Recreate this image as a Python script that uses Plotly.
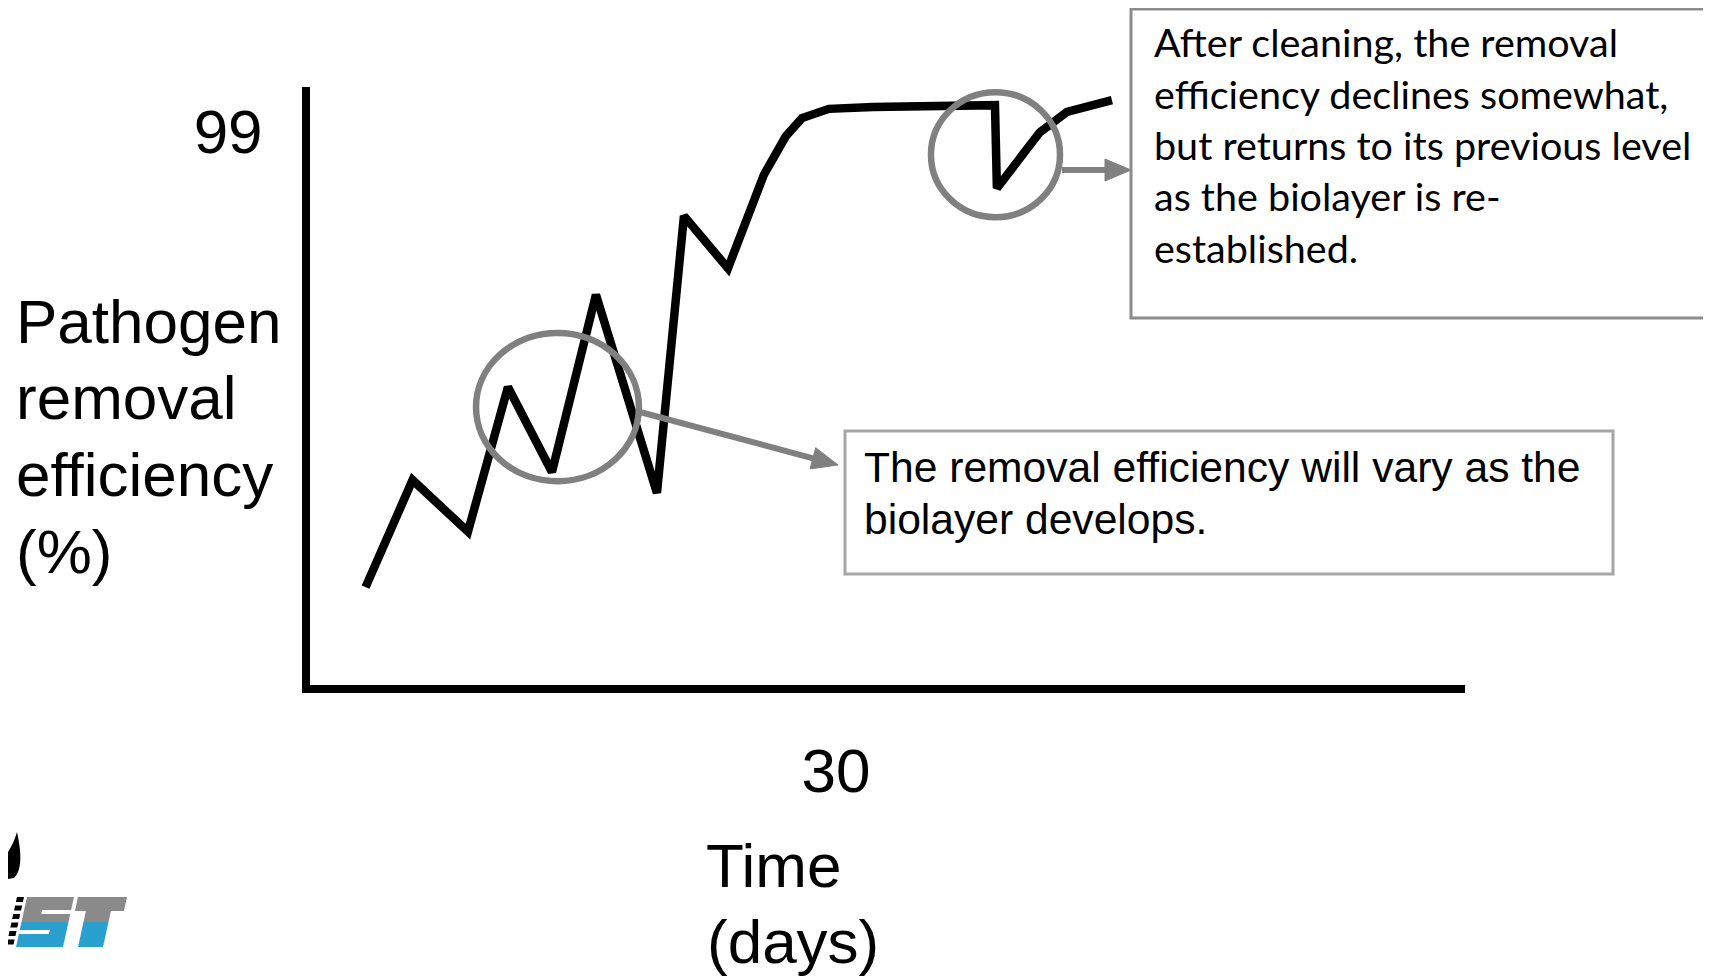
import math
import plotly.graph_objects as go

W, H = 1711, 977
OFF = 8  # page body margin of the browser

# ---- data (schematic curve) ----
days = [3.17, 5.85, 9.01, 11.29, 13.80, 16.31, 19.79, 21.33, 23.84, 25.89,
        27.13, 28.06, 29.6, 32.11, 39.07, 39.18, 41.63, 43.18, 45.74]
efficiency = [91.59, 93.33, 92.49, 94.84, 93.46, 96.34, 93.12, 97.62, 96.77, 98.29,
              98.91, 99.21, 99.36, 99.39, 99.42, 98.07, 98.98, 99.31, 99.50]
x_ticks = [30]
x_tick_text = ["30"]
y_ticks = [99]
y_tick_text = ["99"]
y_title_lines = ["Pathogen", "removal", "efficiency", "(%)"]
x_title_lines = ["Time", "(days)"]
note_top_lines = ["After cleaning, the removal", "efficiency declines somewhat,",
                  "but returns to its previous level", "as the biolayer is re-",
                  "established."]
note_mid_lines = ["The removal efficiency will vary as the", "biolayer develops."]

X_RANGE = [0, 65.88]
Y_RANGE = [90, 99.715]

ARIAL = "Arial, Liberation Sans, sans-serif"
CAL = "Lato, Carlito, Calibri, sans-serif"
GREY = "#808080"


def px(x):
    return (x - OFF) / W


def py(y):
    return 1 - (y - OFF) / H


fig = go.Figure()
fig.add_trace(go.Scatter(x=days, y=efficiency, mode="lines",
                         line=dict(color="black", width=8.5),
                         cliponaxis=False, showlegend=False, hoverinfo="skip"))

shapes = []
# circles highlighting features (data coordinates)
shapes.append(dict(type="circle", xref="x", yref="y", x0=9.47, x1=18.76, y0=93.31, y1=95.72,
                   line=dict(color=GREY, width=6.5)))
shapes.append(dict(type="circle", xref="x", yref="y", x0=35.42, x1=42.78, y0=97.60, y1=99.63,
                   line=dict(color=GREY, width=6.5)))


def arrow(x0, y0, x1, y1, head=26, half=11):
    dx, dy = x1 - x0, y1 - y0
    L = math.hypot(dx, dy)
    ux, uy = dx / L, dy / L
    bx, by = x1 - head * ux, y1 - head * uy
    nx, ny = -uy * half, ux * half
    out = [dict(type="line", xref="paper", yref="paper", x0=px(x0), y0=py(y0),
                x1=px(bx + 2 * ux), y1=py(by + 2 * uy), line=dict(color=GREY, width=6))]
    path = "M {} {} L {} {} L {} {} Z".format(px(x1), py(y1), px(bx + nx), py(by + ny),
                                             px(bx - nx), py(by - ny))
    out.append(dict(type="path", xref="paper", yref="paper", path=path,
                    fillcolor=GREY, line=dict(color=GREY, width=1)))
    return out


shapes += arrow(640, 412, 838, 465)
shapes += arrow(1062, 170, 1131, 170)

# note boxes
shapes.append(dict(type="rect", xref="paper", yref="paper", x0=px(1131), x1=px(1716),
                   y0=py(318), y1=py(9), line=dict(color="#8c8c8c", width=3),
                   fillcolor="rgba(0,0,0,0)"))
shapes.append(dict(type="rect", xref="paper", yref="paper", x0=px(845), x1=px(1613),
                   y0=py(574), y1=py(431), line=dict(color="#a6a6a6", width=3),
                   fillcolor="rgba(0,0,0,0)"))


# ---- logo (bottom-left) drawn as simple shapes ----
def poly(pts, color):
    p = "M " + " L ".join("{} {}".format(px(a), py(b)) for a, b in pts) + " Z"
    return dict(type="path", xref="paper", yref="paper", path=p, fillcolor=color,
                line=dict(width=0), layer="above")


K = 0.22  # italic slant


def sl(x, y):
    return (x + K * (947 - y), y)


LOGO_GREY = "#8a8a8a"
LOGO_BLUE = "#2aa0cf"
# flame
shapes.append(dict(type="path", xref="paper", yref="paper",
                   path="M {} {} C {} {}, {} {}, {} {} L {} {} L {} {} C {} {}, {} {}, {} {} Z".format(
                       px(17), py(832), px(21), py(850), px(23), py(870), px(14), py(878),
                       px(8), py(879), px(8), py(852), px(11), py(847), px(15), py(840),
                       px(17), py(832)),
                   fillcolor="black", line=dict(width=0)))
# stripes
for i in range(6):
    y0 = 897 + i * 8.5
    y1 = y0 + 5
    shapes.append(poly([sl(6, y0), sl(13, y0), sl(13, y1), sl(6, y1)], "black"))
# S
shapes.append(poly([sl(16, 897), sl(63, 897), sl(63, 922), sl(16, 922)], LOGO_GREY))
shapes.append(poly([sl(16, 922), sl(63, 922), sl(63, 947), sl(16, 947)], LOGO_BLUE))
shapes.append(poly([sl(34, 910), sl(65, 910), sl(65, 914), sl(34, 914)], "white"))
shapes.append(poly([sl(14, 930), sl(46, 930), sl(46, 934), sl(14, 934)], "white"))
# T
shapes.append(poly([sl(67, 897), sl(116, 897), sl(116, 911), sl(67, 911)], LOGO_GREY))
shapes.append(poly([sl(78, 911), sl(103, 911), sl(103, 922), sl(78, 922)], LOGO_GREY))
shapes.append(poly([sl(78, 922), sl(103, 922), sl(103, 947), sl(78, 947)], LOGO_BLUE))

annotations = []
# y title, one annotation per line
for txt, yc in zip(y_title_lines, [321, 397, 474, 551]):
    annotations.append(dict(text=txt, xref="paper", yref="paper", x=px(14), y=py(yc),
                            xanchor="left", yanchor="middle", showarrow=False,
                            font=dict(family=ARIAL, size=62, color="black")))
for txt, (xl, yc) in zip(x_title_lines, [(704, 865), (705, 941)]):
    annotations.append(dict(text=txt, xref="paper", yref="paper", x=px(xl), y=py(yc),
                            xanchor="left", yanchor="middle", showarrow=False,
                            font=dict(family=ARIAL, size=62, color="black")))
for i, txt in enumerate(note_top_lines):
    annotations.append(dict(text=txt, xref="paper", yref="paper", x=px(1152), y=py(42 + i * 51.3),
                            xanchor="left", yanchor="middle", showarrow=False,
                            font=dict(family=CAL, size=39.5, color="black")))
for i, txt in enumerate(note_mid_lines):
    annotations.append(dict(text=txt, xref="paper", yref="paper", x=px(862), y=py(467 + i * 52),
                            xanchor="left", yanchor="middle", showarrow=False,
                            font=dict(family=ARIAL, size=42.6, color="black")))

fig.update_layout(
    width=W, height=H, margin=dict(l=0, r=0, t=0, b=0, pad=0, autoexpand=False),
    paper_bgcolor="white", plot_bgcolor="white", showlegend=False,
    xaxis=dict(domain=[px(310), px(1465)], range=X_RANGE, showline=True, linecolor="black",
               linewidth=8, showgrid=False, zeroline=False, ticks="", automargin=False,
               tickvals=x_ticks, ticktext=x_tick_text, ticklabelstandoff=25,
               tickfont=dict(family=ARIAL, size=62, color="black"), fixedrange=True),
    yaxis=dict(domain=[py(685), py(87)], range=Y_RANGE, showline=True, linecolor="black",
               linewidth=8, showgrid=False, zeroline=False, ticks="", automargin=False,
               tickvals=y_ticks, ticktext=y_tick_text, ticklabelstandoff=27,
               tickfont=dict(family=ARIAL, size=62, color="black"), fixedrange=True),
    shapes=shapes, annotations=annotations,
)

fig.write_html("out.html")
